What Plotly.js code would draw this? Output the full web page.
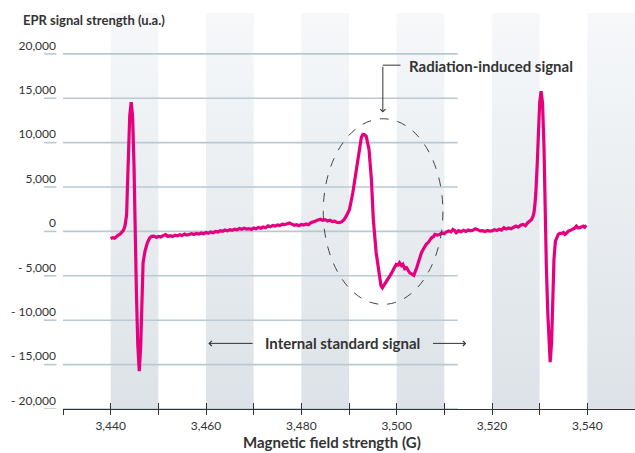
<!DOCTYPE html>
<html>
<head>
<meta charset="utf-8">
<script src="https://cdn.plot.ly/plotly-3.0.1.min.js"></script>
<style>html,body{margin:0;padding:0;background:#fff;}#chart{width:635px;height:453px;}</style>
</head>
<body>
<div id="chart"></div>
<script>
// Magnetic field (G)
const field = [
3440.0,3440.4,3440.8,3441.2,3441.6,3442.0,3442.4,3442.7,3443.0,3443.2,3443.35,3443.5,3443.7,3444.0,3444.3,3444.6,3444.9,3445.1,3445.4,3445.7,3446.0,3446.3,3446.6,3446.8,3447.2,3447.7,3448.2,3448.6,3449.1,3449.6,
3450.0,3450.5,3451.0,3451.5,3452.0,3452.5,3453.0,3453.5,3454.0,3454.5,3455.0,3455.5,3456.0,3456.5,3457.0,3457.5,3458.0,3458.5,3459.0,3459.5,
3460.0,3460.5,3461.0,3461.5,3462.0,3462.5,3463.0,3463.5,3464.0,3464.5,3465.0,3465.5,3466.0,3466.5,3467.0,3467.5,3468.0,3468.5,3469.0,3469.5,
3470.0,3470.5,3471.0,3471.5,3472.0,3472.5,3473.0,3473.5,3474.0,3474.5,3475.0,3475.5,3476.0,3476.5,3477.0,3477.5,3478.0,3478.5,3479.0,3479.5,
3480.0,3480.5,3481.0,3481.5,3482.0,3482.5,3483.0,3483.5,3484.0,3484.5,3485.0,3485.5,3486.0,3486.5,3487.0,3487.5,3488.0,3488.5,3489.0,3489.5,
3490.1,3490.8,3491.5,3492.2,3492.6,3492.9,3493.2,3493.6,3494.2,3494.7,3495.1,3495.7,3496.3,3496.7,3497.0,3497.4,3497.8,3498.3,3498.9,3499.4,
3499.9,3500.3,3500.6,3501.0,3501.3,3501.7,3502.1,3502.7,3503.2,3503.6,3504.2,3504.7,3505.2,3505.7,3506.2,3506.7,3507.3,3507.7,3508.0,3508.5,
3509.0,3509.5,3510.0,3510.4,3510.9,3511.4,3511.8,3512.2,3512.5,3513.0,3513.5,3514.0,3514.5,3515.0,3515.5,3516.0,3516.5,3517.0,3517.5,3518.0,
3518.5,3519.0,3519.5,3520.0,3520.5,3521.0,3521.5,3522.0,3522.5,3523.0,3523.5,3524.0,3524.5,3525.0,3525.5,3526.0,3526.5,3527.0,3527.5,3528.0,
3528.3,3528.6,3528.8,3529.0,3529.2,3529.5,3529.8,3530.0,3530.3,3530.6,3530.9,3531.1,3531.4,3531.7,3532.0,3532.2,3532.5,3532.7,3533.0,3533.3,
3533.6,3533.9,3534.3,3534.6,3535.0,3535.3,3535.7,3536.0,3536.4,3536.7,3537.0,3537.3,3537.7,3538.0,3538.4,3538.8,3539.1,3539.4,3539.8
];
// EPR signal strength (u.a.)
const signal = [
-820,-700,-760,-560,-420,-300,-80,150,600,1100,1900,4700,8900,13000,14560,13000,7350,200,-6900,-12900,-15730,-12900,-7280,-3530,-2220,-1270,-710,-560,-530,-680,
-560,-620,-470,-360,-560,-480,-580,-420,-500,-380,-460,-300,-420,-330,-250,-350,-220,-300,-180,-260,
-120,-200,-60,-150,0,-60,80,20,150,60,200,120,260,180,320,240,350,270,320,220,
380,300,450,360,500,420,620,520,680,600,740,660,820,760,900,940,820,700,760,650,
780,720,850,760,980,1050,1180,1300,1380,1260,1320,1180,1250,1100,1150,1000,980,1100,1350,1800,
2480,4360,6980,9610,10600,10920,10900,10730,9230,5860,1350,-2400,-5030,-6100,-6340,-6000,-5780,-5200,-4730,-4200,
-3720,-3800,-3530,-3850,-3700,-4200,-4090,-4650,-4800,-4950,-4090,-3200,-2400,-1900,-1460,-1200,-710,-600,-340,-420,
-340,-150,-260,-80,60,-50,230,80,-150,80,-40,120,0,150,60,130,300,200,60,80,
-20,100,30,60,180,100,250,150,410,280,380,300,500,600,480,700,790,650,980,1150,
1350,1700,2100,3000,4360,7730,11490,14490,15800,14490,9610,2850,-3900,-9150,-12900,-14720,-12530,-8410,-3150,-1090,
-600,-340,-200,-230,-120,-340,-150,30,100,150,280,350,600,420,410,520,600,470,680
];
const bandStarts = [3440, 3460, 3480, 3500, 3520, 3540];
const bandWidth = 10;
const yTickVals = [-20000,-15000,-10000,-5000,0,5000,10000,15000,20000];
const yTickText = ['- 20,000','- 15,000','- 10,000','- 5,000','0','5,000','10,000','15,000','20,000'];
const xTickVals = [3430,3440,3450,3460,3470,3480,3490,3500,3510,3520,3530,3540,3550];
const xTickText = ['','3,440','','3,460','','3,480','','3,500','','3,520','','3,540',''];

const X_RANGE = [3430, 3550];
const Y_RANGE = [-20000, 24600];
const GRID_END = 3512.8;
const FONT = 'Lato, "Open Sans", sans-serif';
const TXT = '#333333';

const traces = [];
// shaded bands (vertical gradient)
bandStarts.forEach(b => {
  traces.push({
    type: 'scatter', mode: 'lines',
    x: [b, b + bandWidth, b + bandWidth, b, b],
    y: [Y_RANGE[0], Y_RANGE[0], Y_RANGE[1], Y_RANGE[1], Y_RANGE[0]],
    fill: 'toself',
    fillgradient: {type: 'vertical', colorscale: [[0, '#dce2e7'], [1, '#f6f8fa']]},
    line: {width: 0},
    hoverinfo: 'skip', showlegend: false
  });
});
// gridlines
const gx = [], gy = [];
yTickVals.forEach(v => { gx.push(X_RANGE[0], GRID_END, null); gy.push(v, v, null); });
traces.push({type: 'scatter', mode: 'lines', x: gx, y: gy,
  line: {color: '#b9c9d3', width: 1.6}, hoverinfo: 'skip', showlegend: false});
// signal
traces.push({type: 'scatter', mode: 'lines', x: field, y: signal,
  line: {color: '#e6007e', width: 3.2}, showlegend: false});

const shapes = [];
// left tick dashes
yTickVals.forEach(v => shapes.push({type: 'line', xref: 'paper', yref: 'y',
  x0: -0.0332, x1: -0.0115, y0: v, y1: v, line: {color: '#b9c9d3', width: 1.6}}));
// ellipse
shapes.push({type: 'circle', xref: 'x', yref: 'y', x0: 3484.6, x1: 3509.7, y0: -8220, y1: 12690,
  line: {color: '#444', width: 1, dash: 'dash'}});
// radiation arrow horizontal part
shapes.push({type: 'line', xref: 'x', yref: 'y', x0: 3497.1, x1: 3500.8, y0: 18725, y1: 18725,
  line: {color: '#333', width: 1}});

const annotations = [
  {xref: 'paper', yref: 'paper', x: 0, xshift: -42, y: 0.982, xanchor: 'left', yanchor: 'middle',
   text: '<b>EPR signal strength (u.a.)</b>', showarrow: false, font: {family: FONT, size: 13, color: TXT}},
  {xref: 'paper', yref: 'paper', x: 0.47, y: 0, yshift: -33, xanchor: 'center', yanchor: 'middle',
   text: '<b>Magnetic field strength (G)</b>', showarrow: false, font: {family: FONT, size: 15, color: TXT}},
  {xref: 'x', yref: 'y', x: 3502.1, y: 18600, xanchor: 'left', yanchor: 'middle',
   text: '<b>Radiation-induced signal</b>', showarrow: false, font: {family: FONT, size: 15, color: TXT}},
  {xref: 'x', yref: 'y', x: 3497.1, y: 13400, ax: 3497.1, ay: 18725, axref: 'x', ayref: 'y',
   text: '', showarrow: true, arrowhead: 4, arrowsize: 1, arrowwidth: 1, arrowcolor: '#333'},
  {xref: 'x', yref: 'y', x: 3488.7, y: -12611, xanchor: 'center', yanchor: 'middle',
   text: '<b>Internal standard signal</b>', showarrow: false, font: {family: FONT, size: 15, color: TXT}},
  {xref: 'x', yref: 'y', x: 3460.5, y: -12611, ax: 3470.1, ay: -12611, axref: 'x', ayref: 'y',
   text: '', showarrow: true, arrowhead: 4, arrowsize: 1, arrowwidth: 1, arrowcolor: '#333'},
  {xref: 'x', yref: 'y', x: 3514.6, y: -12611, ax: 3507.3, ay: -12611, axref: 'x', ayref: 'y',
   text: '', showarrow: true, arrowhead: 4, arrowsize: 1, arrowwidth: 1, arrowcolor: '#333'}
];

const layout = {
  width: 635, height: 453,
  margin: {l: 63, r: 0, t: 13, b: 44, pad: 0},
  paper_bgcolor: '#ffffff', plot_bgcolor: '#ffffff',
  font: {family: FONT, size: 12, color: TXT},
  showlegend: false,
  xaxis: {range: X_RANGE, tickvals: xTickVals, ticktext: xTickText,
    ticks: 'outside', ticklen: 5, tickwidth: 1, tickcolor: '#333', ticklabelstandoff: 0,
    showline: true, linecolor: '#333', linewidth: 1.2, showgrid: false, zeroline: false,
    tickfont: {family: FONT, size: 12, color: TXT}, fixedrange: true},
  xaxis2: {range: X_RANGE, overlaying: 'x', tickvals: xTickVals, showticklabels: false,
    ticks: 'inside', ticklen: 6, tickwidth: 1, tickcolor: '#333',
    showline: false, showgrid: false, zeroline: false, anchor: 'y', side: 'bottom'},
  yaxis: {range: Y_RANGE, tickvals: yTickVals, ticktext: yTickText,
    ticks: '', showline: false, showgrid: false, zeroline: false,
    ticklabelposition: 'outside top', ticklabelstandoff: 6,
    tickfont: {family: FONT, size: 12, color: TXT}, fixedrange: true},
  shapes: shapes,
  annotations: annotations
};
traces.push({type: 'scatter', mode: 'lines', x: [X_RANGE[0]], y: [0], xaxis: 'x2', yaxis: 'y',
  hoverinfo: 'skip', showlegend: false, line: {width: 0}});

Plotly.newPlot('chart', traces, layout, {displayModeBar: false, staticPlot: true});
</script>
</body>
</html>
